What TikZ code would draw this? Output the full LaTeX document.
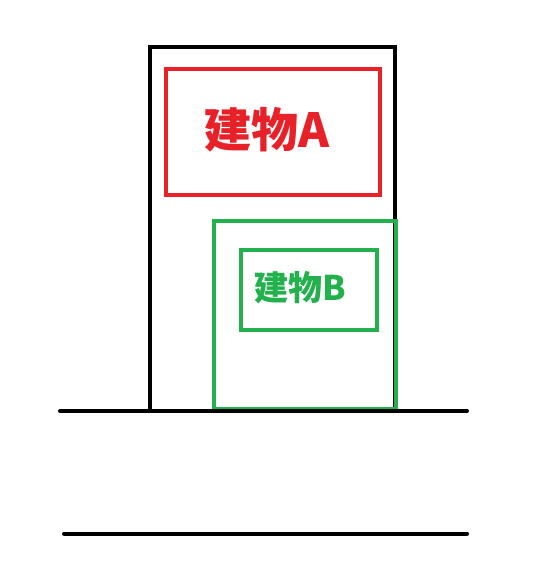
\documentclass[tikz,border=0pt]{standalone}
\usepackage{fontspec}
\newfontfamily\jpfont{Noto Sans CJK JP}
\usepackage{tikz}
\usetikzlibrary{positioning}
\definecolor{paintrood}{RGB}{232,32,40}
\definecolor{paintgroen}{RGB}{34,177,76}
\tikzset{
  % De basisinstellingen voor de kaders
  kader/.style={%
    draw,
    line width=4pt,
    fill=none,
    inner sep=0pt
  },
  % Kleurcodes per gebouw
  kavel/.style={kader, draw=black},
  rood/.style={kader, draw=paintrood},
  groen/.style={kader, draw=paintgroen},
  % Tekst in de kaders
  naam/.style={inner sep=0pt, font=\jpfont\bfseries},
  % De weg
  weg/.style={line width=4pt, line cap=round}
}
\begin{document}
\begin{tikzpicture}[x=1pt, y=-1pt]

  \useasboundingbox (0,0) rectangle (551,573);

  % --- KAVEL EN GEBOUWEN ---

  \node [kavel, minimum width=245pt, minimum height=364pt] (kavel) at (272.5,229) {};

  \node [rood, minimum width=213.5pt, minimum height=126.5pt] (gebouwA) at (273,132) {};
  \node [naam, text=paintrood, font=\jpfont\bfseries\fontsize{47}{47}\selectfont] (naamA) at (267.5,130) {建物A};

  \node [groen, minimum width=182pt, minimum height=188pt] (perceelB) at (304.5,315) {};
  \node [groen, minimum width=135.5pt, minimum height=79.5pt] (gebouwB) at (309,290) {};
  \node [naam, text=paintgroen, font=\jpfont\bfseries\fontsize{34}{34}\selectfont] (naamB) at (300,288) {建物B};

  % --- DE WEG ---

  \coordinate (wegLB) at (60,411);
  \coordinate (wegRB) at (467,411);
  \coordinate (wegLO) at (64,533.5);
  \coordinate (wegRO) at (467,533.5);
  \draw [weg] (wegLB) -- (wegRB);
  \draw [weg] (wegLO) -- (wegRO);

\end{tikzpicture}
\end{document}
